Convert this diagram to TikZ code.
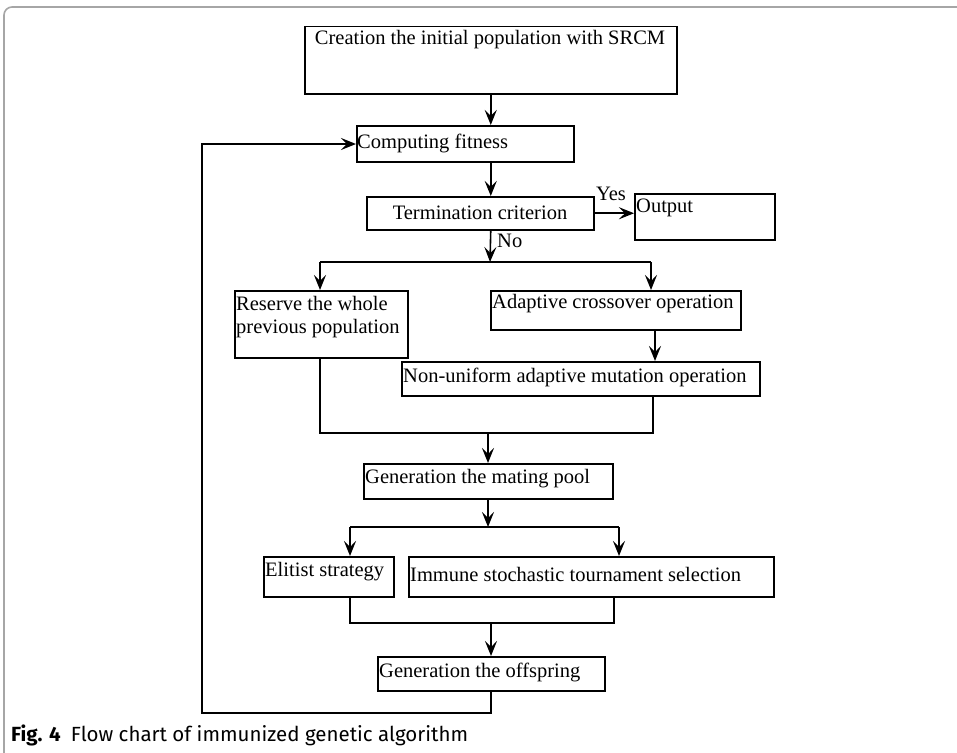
\documentclass[tikz,border=0pt]{standalone}
\usepackage{fontspec}
\setmainfont{Liberation Serif}
\newfontfamily\capfont{Fira Sans}
\usetikzlibrary{arrows.meta}
\begin{document}
\begin{tikzpicture}[x=1pt,y=-1pt,
  box/.style={draw, line width=1.5pt, inner sep=0pt, anchor=north west},
  txt/.style={font=\fontsize{20.5}{24}\selectfont, inner sep=0pt, anchor=west},
  ln/.style={line width=1.6pt},
  arr/.style={line width=1.6pt, -{Stealth[length=15pt,width=12pt,inset=6pt]}},
]
\useasboundingbox (0,0) rectangle (957,752);
\draw[gray!70, line width=1.6pt, rounded corners=8pt] (4,760) -- (4,7) -- (965,7);
% boxes
\node[box, minimum width=372pt, minimum height=67pt] (init) at (304,26) {};
\node[txt, anchor=center] (initt) at (490,40) {Creation the initial population with SRCM};
\node[box, minimum width=217pt, minimum height=36pt] (fit) at (356,125) {};
\node[txt] (fitt) at (357,143) {Computing fitness};
\node[box, minimum width=227pt, minimum height=33pt] (term) at (366,196) {};
\node[txt, anchor=center] (termt) at (480,213) {Termination criterion};
\node[box, minimum width=140pt, minimum height=46pt] (out) at (634,193) {};
\node[txt] (outt) at (636,208) {Output};
\node[box, minimum width=173pt, minimum height=67pt] (res) at (234,290) {};
\node[txt] (rest1) at (236,303) {Reserve the whole};
\node[txt] (rest2) at (236,329) {previous population};
\node[box, minimum width=250pt, minimum height=39pt] (cro) at (490,290) {};
\node[txt] (crot) at (492,304) {Adaptive crossover operation};
\node[box, minimum width=358pt, minimum height=34pt] (mut) at (401,361) {};
\node[txt] (mutt) at (403,377) {Non-uniform adaptive mutation operation};
\node[box, minimum width=249pt, minimum height=35pt] (pool) at (363,463) {};
\node[txt] (poolt) at (365,479) {Generation the mating pool};
\node[box, minimum width=130pt, minimum height=40pt] (eli) at (263,556) {};
\node[txt] (elit) at (265,572) {Elitist strategy};
\node[box, minimum width=365pt, minimum height=40pt] (imm) at (408,556) {};
\node[txt] (immt) at (410,574) {Immune stochastic tournament selection};
\node[box, minimum width=227pt, minimum height=34pt] (off) at (377,656) {};
\node[txt] (offt) at (379,672) {Generation the offspring};
% labels
\node[txt, anchor=center] (yes) at (611,194) {Yes};
\node[txt] (no) at (497,241) {No};
% coordinates
\coordinate (b1) at (490,262); \coordinate (b1l) at (320,262); \coordinate (b1r) at (651,262);
\coordinate (c1) at (655,0);
\coordinate (j1l) at (320,433); \coordinate (j1r) at (653,433); \coordinate (j1m) at (488,433);
\coordinate (b2) at (488,527); \coordinate (b2l) at (350,527); \coordinate (b2r) at (619,527);
\coordinate (j2l) at (350,623); \coordinate (j2r) at (614,623); \coordinate (j2m) at (491,623);
\coordinate (lp1) at (491,713); \coordinate (lp2) at (202,713); \coordinate (lp3) at (202,144);
% connectors
\draw[arr] (init.south) -- (init.south |- fit.north);
\draw[arr] (init.south |- fit.south) -- (init.south |- term.north);
\draw[arr] (term.east) -- (term.east -| out.west);
\draw[arr] (init.south |- term.south) -- (b1);
\draw[ln] (b1l) -- (b1r);
\draw[arr] (b1l) -- (b1l |- res.north);
\draw[arr] (b1r) -- (b1r |- cro.north);
\draw[arr] (c1 |- cro.south) -- (c1 |- mut.north);
\draw[ln] (j1l |- res.south) -- (j1l) -- (j1r) -- (j1r |- mut.south);
\draw[arr] (j1m) -- (j1m |- pool.north);
\draw[arr] (j1m |- pool.south) -- (b2);
\draw[ln] (b2l) -- (b2r);
\draw[arr] (b2l) -- (b2l |- eli.north);
\draw[arr] (b2r) -- (b2r |- imm.north);
\draw[ln] (j2l |- eli.south) -- (j2l) -- (j2r) -- (j2r |- imm.south);
\draw[arr] (j2m) -- (j2m |- off.north);
\draw[arr] (lp1 |- off.south) -- (lp1) -- (lp2) -- (lp3) -- (lp3 -| fit.west);
% caption
\node[anchor=west, inner sep=0pt, font=\capfont\fontsize{20.5}{24}\selectfont] (cap) at (11,735) {\textbf{Fig. 4}\hspace{0.5em}Flow chart of immunized genetic algorithm};
\end{tikzpicture}
\end{document}
